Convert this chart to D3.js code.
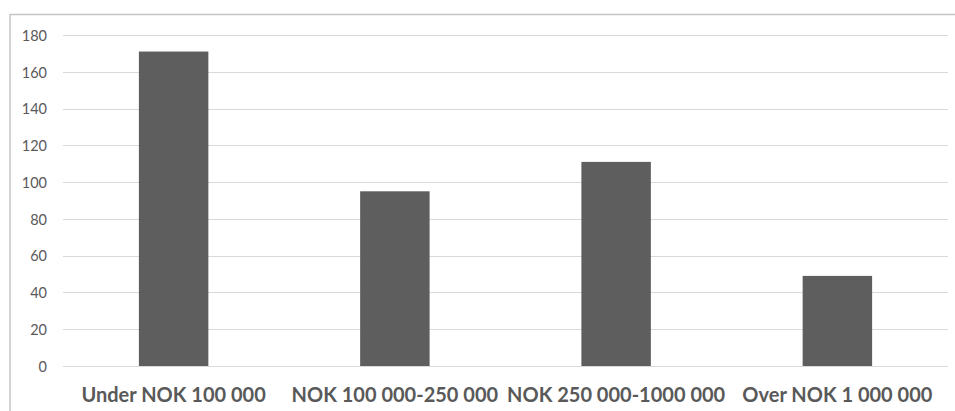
<!DOCTYPE html>
<html>
<head>
<meta charset="utf-8">
<script src="https://cdn.jsdelivr.net/npm/d3@7"></script>
<style>
  html, body { margin: 0; padding: 0; background: #fff; }
  svg { display: block; }
</style>
</head>
<body>
<svg id="chart" width="955" height="411"></svg>
<script>
// Number of transactions by size band
const categories = ["Under NOK 100 000", "NOK 100 000-250 000", "NOK 250 000-1000 000", "Over NOK 1 000 000"];
const values = [171, 95, 111, 49];
const yTicks = [0, 20, 40, 60, 80, 100, 120, 140, 160, 180];

const W = 955, H = 411;
const margin = { left: 63, right: 7, top: 35, bottom: 45 };

const svg = d3.select("#chart");

// chart frame (top and left edges visible)
svg.append("line")
  .attr("x1", 10).attr("x2", W).attr("y1", 14.5).attr("y2", 14.5)
  .attr("stroke", "#c4c4c4").attr("stroke-width", 1.5);
svg.append("line")
  .attr("x1", 10).attr("x2", 10).attr("y1", 14).attr("y2", H)
  .attr("stroke", "#c4c4c4").attr("stroke-width", 1.5);

const x = d3.scaleBand()
  .domain(categories)
  .range([margin.left, W - margin.right])
  .paddingInner(0.686)
  .paddingOuter(0.343);

const y = d3.scaleLinear()
  .domain([0, 180])
  .range([H - margin.bottom, margin.top]);

// horizontal gridlines
svg.append("g")
  .selectAll("line")
  .data(yTicks)
  .join("line")
  .attr("x1", margin.left)
  .attr("x2", W - margin.right)
  .attr("y1", d => Math.round(y(d)) + 0.5)
  .attr("y2", d => Math.round(y(d)) + 0.5)
  .attr("stroke", "#d9d9d9")
  .attr("stroke-width", 1.2);

// y axis labels
const yAxis = d3.axisLeft(y).tickValues(yTicks).tickSize(0).tickPadding(0);
const gy = svg.append("g")
  .attr("transform", `translate(47,0)`)
  .call(yAxis);
gy.select(".domain").remove();
gy.selectAll("text")
  .attr("fill", "#595959")
  .style("font-family", "Lato, 'Open Sans', sans-serif")
  .style("font-size", "14.5px")
  .attr("dy", "0.36em");

// bars
svg.append("g")
  .selectAll("rect")
  .data(values)
  .join("rect")
  .attr("x", (d, i) => x(categories[i]))
  .attr("width", x.bandwidth())
  .attr("y", d => y(d))
  .attr("height", d => y(0) - y(d))
  .attr("fill", "#5e5e5e");

// category labels
const xAxis = d3.axisBottom(x).tickSize(0).tickPadding(0);
const gx = svg.append("g")
  .attr("transform", `translate(0,${y(0)})`)
  .call(xAxis);
gx.select(".domain").remove();
gx.selectAll("text")
  .attr("fill", "#595959")
  .attr("y", 35.5)
  .attr("dy", 0)
  .style("font-family", "Lato, 'Open Sans', sans-serif")
  .style("font-weight", "bold")
  .style("font-size", "20px");
</script>
</body>
</html>
